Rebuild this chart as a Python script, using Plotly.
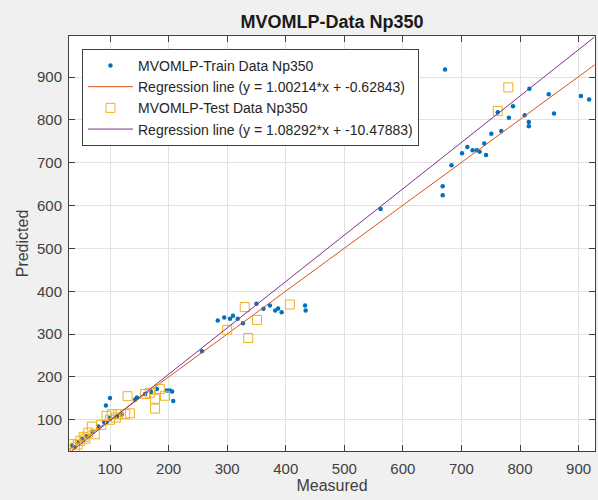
import plotly.graph_objects as go
import numpy as np

# ---- data ----
train_x = [35, 40, 45, 52, 60, 70, 80, 90, 94, 100, 93, 100, 112, 120, 143, 146, 160, 170, 180,
           197, 202, 206, 208,
           257, 284, 295, 305, 310, 318, 327, 350, 362, 373, 382, 387, 393, 433, 434,
           562, 668, 668, 672, 683, 701, 710, 719, 726, 731, 739, 742, 751, 762, 768, 781, 788,
           808, 815, 815, 816, 849, 858, 904, 918]
train_y = [40, 36, 48, 55, 62, 72, 84, 95, 94, 104, 133, 151, 108, 112, 147, 152, 160, 165, 172,
           168, 168, 166, 144,
           260, 332, 339, 336, 343, 336, 325, 371, 359, 367, 355, 360, 351, 367, 355,
           592, 624, 645, 918, 694, 722, 737, 729, 729, 726, 745, 718, 768, 818, 774, 805, 832,
           811, 795, 785, 873, 860, 815, 856, 848]

test_x = [35, 40, 45, 49, 55, 58, 63, 69, 74, 85, 94, 100, 103, 110, 114, 126, 134,
          130, 160, 168, 177, 177, 185, 194,
          300, 330, 336, 351, 407,
          762, 780]
test_y = [43, 35, 42, 51, 60, 56, 70, 84, 66, 88, 109, 100, 113, 105, 113, 113, 115,
          155, 160, 163, 149, 126, 172, 156,
          310, 363, 291, 333, 369,
          821, 876]

train_slope, train_icpt = 1.00214, -0.62843
test_slope, test_icpt = 1.08292, -10.47883

x_range = [30, 928]
y_range = [27, 996]
tick_vals = [100, 200, 300, 400, 500, 600, 700, 800, 900]

all_x = train_x + test_x
line_x = np.array([min(all_x) - 5, max(all_x) + 9])

fig = go.Figure()
fig.add_trace(go.Scatter(
    x=train_x, y=train_y, mode="markers",
    name="MVOMLP-Train Data Np350",
    marker=dict(color="#0072BD", size=4.5, symbol="circle")))
fig.add_trace(go.Scatter(
    x=line_x, y=train_slope * line_x + train_icpt, mode="lines",
    name="Regression line (y = 1.00214*x + -0.62843)",
    line=dict(color="#D95319", width=1)))
fig.add_trace(go.Scatter(
    x=test_x, y=test_y, mode="markers",
    name="MVOMLP-Test Data Np350",
    marker=dict(color="#EDB120", size=9, symbol="square-open", line=dict(width=1))))
fig.add_trace(go.Scatter(
    x=line_x, y=test_slope * line_x + test_icpt, mode="lines",
    name="Regression line (y = 1.08292*x + -10.47883)",
    line=dict(color="#7E2F8E", width=1)))

axis_common = dict(
    ticks="inside", ticklen=6, tickcolor="#404040",
    showline=True, linecolor="#404040", linewidth=1, mirror="ticks",
    showgrid=True, gridcolor="#e2e2e2", gridwidth=1,
    zeroline=False,
    tickfont=dict(family="Liberation Sans, Arial", size=15, color="#404040"),
)

fig.update_layout(
    width=598, height=500,
    margin=dict(l=69, r=3, t=36, b=49),
    paper_bgcolor="#f0f0f0", plot_bgcolor="white",
    font=dict(family="Liberation Sans, Arial", color="#262626"),
    title=dict(text="<b>MVOMLP-Data Np350</b>", x=0.5, xref="paper", y=1 - 22 / 500,
               yref="container", yanchor="middle", xanchor="center",
               font=dict(size=18, color="#1a1a1a")),
    xaxis=dict(range=x_range, tickvals=tick_vals, ticklabelstandoff=4,
               title=dict(text="Measured", font=dict(size=16, color="#404040"), standoff=2),
               **axis_common),
    yaxis=dict(range=y_range, tickvals=tick_vals, ticklabelstandoff=3,
               title=dict(text="Predicted", font=dict(size=16, color="#404040"), standoff=4),
               **axis_common),
    legend=dict(x=0.0247, y=0.969, xanchor="left", yanchor="top",
                bgcolor="white", bordercolor="#404040", borderwidth=1,
                itemwidth=45,
                font=dict(size=14, color="#262626"), tracegroupgap=0),
    showlegend=True,
)

fig.write_html("out.html")
